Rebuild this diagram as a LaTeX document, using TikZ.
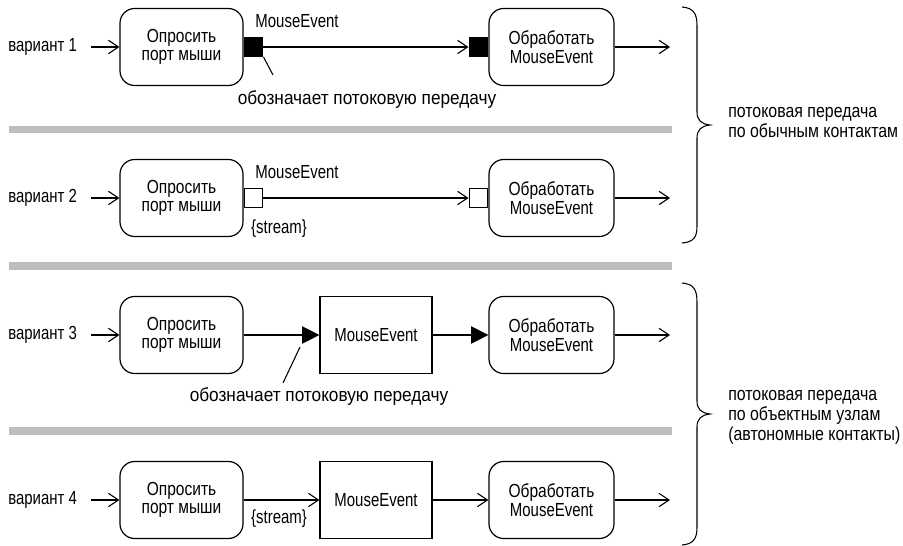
\documentclass[tikz,border=0pt]{standalone}
\usepackage{fontspec}
\setmainfont{Liberation Sans}[FakeStretch=0.9]
\newfontfamily\lat{Liberation Sans}[FakeStretch=0.79]
\newfontfamily\fntbox{Liberation Sans}[FakeStretch=0.82]
\newfontfamily\fntvar{Liberation Sans}[FakeStretch=0.79]
\newfontfamily\fntnote{Liberation Sans}[FakeStretch=0.91]
\newfontfamily\fntside{Liberation Sans}[FakeStretch=0.84]
\usetikzlibrary{arrows.meta}
\definecolor{bar}{HTML}{BCBEC0}
\begin{document}
\begin{tikzpicture}[x=0.75pt,y=-0.75pt,
  font=\fontsize{14.2}{14}\selectfont,
  act/.style={draw,line width=0.9pt,rounded corners=11pt,minimum width=92.25pt,minimum height=57.75pt,inner sep=0pt,align=center,font=\fontsize{14.2}{14}\fntbox},
  obj/.style={draw,line width=0.9pt,minimum width=84pt,minimum height=57.75pt,inner sep=0pt,align=center,font=\fontsize{14.2}{14}\lat},
  pinfull/.style={draw,fill=black,line width=0.9pt,minimum size=14pt,inner sep=0pt},
  pinopen/.style={draw,fill=white,line width=0.9pt,minimum size=14pt,inner sep=0pt},
  lbl/.style={inner sep=0pt},
  varlbl/.style={inner sep=0pt,anchor=west,font=\fontsize{14.2}{14}\fntvar},
  notelbl/.style={inner sep=0pt,font=\fontsize{14.2}{14}\fntnote},
  sidelbl/.style={inner sep=0pt,anchor=west,align=left,font=\fontsize{14.2}{15}\fntside},
  latlbl/.style={inner sep=0pt,font=\fontsize{14.2}{14}\lat},
  flow/.style={line width=0.8pt,-{Straight Barb[length=7.5pt,width=10pt,line width=0.8pt]}},
  sflow/.style={line width=0.8pt,-{Triangle[length=13pt,width=13pt]}},
  plain/.style={line width=0.8pt},
  brace/.style={line width=0.8pt}
]
\useasboundingbox (0,0) rectangle (903,546);

% gray separators
\fill[bar] (9,126) rectangle (672,133);
\fill[bar] (9,262) rectangle (672,270);
\fill[bar] (9,427) rectangle (672,435);

% ---------- variant 1
\node[varlbl] (v1) at (8,47) {вариант 1};
\node[act] (a1) at (181.5,47) {Опросить\\порт мыши};
\node[act,minimum width=93.75pt] (b1) at (551.5,47) {Обработать\\{\lat MouseEvent}};
\node[pinfull,anchor=west] (p1) at (a1.east) {};
\node[pinfull,anchor=east] (q1) at (b1.west) {};
\coordinate (e1) at (670,47);
\node[latlbl] (m1) at (297,21) {MouseEvent};
\node[notelbl] (n1) at (367,100) {обозначает потоковую передачу};
\coordinate (n1a) at (273,75);
\draw[flow] ([xshift=10pt]v1.east) -- (a1.west);
\draw[flow] (p1.east) -- (q1.west);
\draw[flow] (b1.east) -- (e1);
\draw[plain] (p1.south east) -- (n1a);

% ---------- variant 2
\node[varlbl] (v2) at (8,198) {вариант 2};
\node[act] (a2) at (181.5,198) {Опросить\\порт мыши};
\node[act,minimum width=93.75pt] (b2) at (551.5,198) {Обработать\\{\lat MouseEvent}};
\node[pinopen,anchor=west] (p2) at (a2.east) {};
\node[pinopen,anchor=east] (q2) at (b2.west) {};
\coordinate (e2) at (670,198);
\node[latlbl] (m2) at (297,172) {MouseEvent};
\node[latlbl] (s2) at (279,229) {\{stream\}};
\draw[flow] ([xshift=10pt]v2.east) -- (a2.west);
\draw[flow] (p2.east) -- (q2.west);
\draw[flow] (b2.east) -- (e2);

% ---------- variant 3
\node[varlbl] (v3) at (8,335) {вариант 3};
\node[act] (a3) at (181.5,335) {Опросить\\порт мыши};
\node[obj] (o3) at (376,335) {MouseEvent};
\node[act,minimum width=93.75pt] (b3) at (551.5,335) {Обработать\\{\lat MouseEvent}};
\coordinate (e3) at (670,335);
\node[notelbl] (n3) at (319,397) {обозначает потоковую передачу};
\coordinate (n3s) at (300,347);
\coordinate (n3a) at (283,383);
\draw[flow] ([xshift=10pt]v3.east) -- (a3.west);
\draw[sflow] (a3.east) -- (o3.west);
\draw[sflow] (o3.east) -- (b3.west);
\draw[flow] (b3.east) -- (e3);
\draw[plain] (n3s) -- (n3a);

% ---------- variant 4
\node[varlbl] (v4) at (8,500) {вариант 4};
\node[act] (a4) at (181.5,500) {Опросить\\порт мыши};
\node[obj] (o4) at (376,500) {MouseEvent};
\node[act,minimum width=93.75pt] (b4) at (551.5,500) {Обработать\\{\lat MouseEvent}};
\coordinate (e4) at (670,500);
\node[latlbl] (s4) at (279,519) {\{stream\}};
\draw[flow] ([xshift=10pt]v4.east) -- (a4.west);
\draw[flow] (a4.east) -- (o4.west);
\draw[flow] (o4.east) -- (b4.west);
\draw[flow] (b4.east) -- (e4);

% ---------- braces
\draw[brace] (682,7) .. controls (694,8) and (697,14) .. (697,26)
  -- (697,112) .. controls (697,120) and (701,124) .. (710,125)
  .. controls (701,126) and (697,130) .. (697,138)
  -- (697,226) .. controls (697,237) and (694,242) .. (682,243);
\node[sidelbl] (t1) at (728,122) {потоковая передача\\по обычным контактам};

\draw[brace] (682,283) .. controls (694,284) and (697,290) .. (697,302)
  -- (697,401) .. controls (697,409) and (701,413) .. (710,414)
  .. controls (701,415) and (697,419) .. (697,427)
  -- (697,527) .. controls (697,538) and (694,544) .. (682,545);
\node[sidelbl] (t2) at (728,417) {потоковая передача\\по объектным узлам\\(автономные контакты)};
\end{tikzpicture}
\end{document}
